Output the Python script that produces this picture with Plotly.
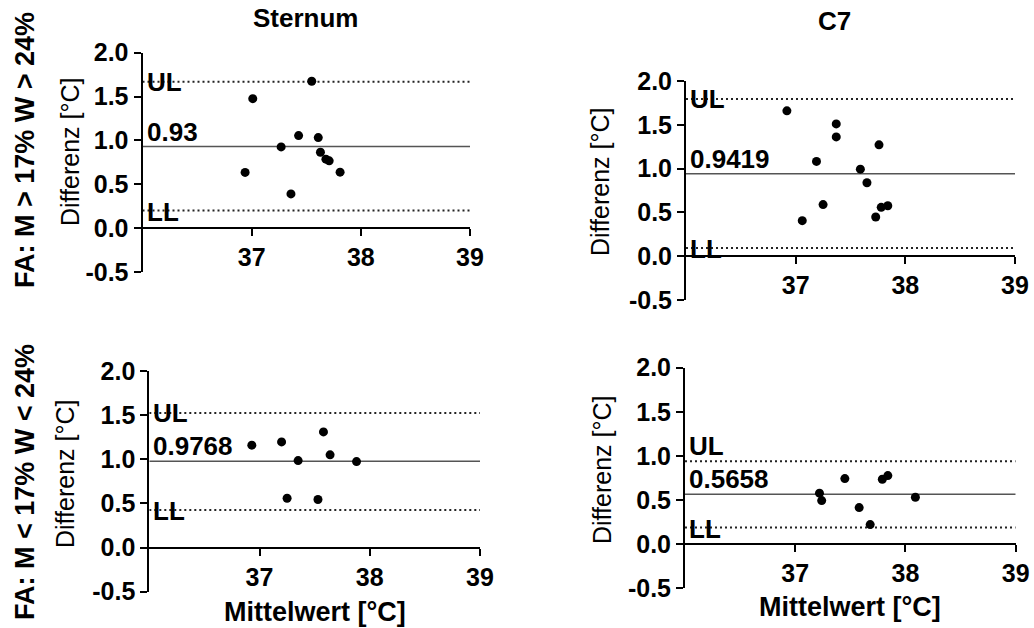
import plotly.graph_objects as go

W, H = 1034, 628

# ---------------- data ----------------
sternum_hi_x = [36.94, 37.01, 37.55, 37.27, 37.36, 37.43, 37.61, 37.63, 37.68, 37.71, 37.81]
sternum_hi_y = [0.635, 1.476, 1.674, 0.926, 0.39, 1.055, 1.032, 0.865, 0.786, 0.767, 0.638]
sternum_hi_stats = [0.93, 1.67, 0.20]      # mean, UL, LL
sternum_hi_label = "0.93"

c7_hi_x = [36.92, 37.06, 37.19, 37.25, 37.37, 37.37, 37.59, 37.65, 37.76, 37.73, 37.78, 37.84]
c7_hi_y = [1.659, 0.406, 1.082, 0.589, 1.51, 1.362, 0.994, 0.839, 1.271, 0.448, 0.558, 0.576]
c7_hi_stats = [0.9419, 1.795, 0.095]
c7_hi_label = "0.9419"

sternum_lo_x = [36.93, 37.2, 37.35, 37.25, 37.53, 37.58, 37.64, 37.88]
sternum_lo_y = [1.16, 1.197, 0.985, 0.559, 0.544, 1.31, 1.05, 0.974]
sternum_lo_stats = [0.9768, 1.525, 0.425]
sternum_lo_label = "0.9768"

c7_lo_x = [37.22, 37.24, 37.45, 37.58, 37.68, 37.79, 37.84, 38.09]
c7_lo_y = [0.578, 0.494, 0.743, 0.415, 0.222, 0.736, 0.777, 0.532]
c7_lo_stats = [0.5658, 0.94, 0.188]
c7_lo_label = "0.5658"

x_range = [36, 39]
y_range = [-0.5, 2.0]
x_tickvals = [37, 38, 39]
x_ticktext = ["37", "38", "39"]
y_tickvals = [-0.5, 0.0, 0.5, 1.0, 1.5, 2.0]
y_ticktext = ["-0.5", "0.0", "0.5", "1.0", "1.5", "2.0"]

col_titles = ["Sternum", "C7"]
row_titles = ["FA: M > 17% W > 24%", "FA: M < 17% W < 24%"]
y_title = "Differenz [°C]"
x_title = "Mittelwert [°C]"

# ---------------- layout (pixel geometry) ----------------
FONT = "Liberation Sans, Arial, sans-serif"

# panel boxes: x-left, x-right, y-top(2.0), y-bottom(-0.5) in pixels
panels = [
    dict(x=sternum_hi_x, y=sternum_hi_y, stats=sternum_hi_stats, label=sternum_hi_label,
         box=(142.5, 470, 52.7, 272), ul_above=False),
    dict(x=c7_hi_x, y=c7_hi_y, stats=c7_hi_stats, label=c7_hi_label,
         box=(686, 1015, 81, 300), ul_above=False),
    dict(x=sternum_lo_x, y=sternum_lo_y, stats=sternum_lo_stats, label=sternum_lo_label,
         box=(149.3, 480, 371, 591.7), ul_above=False),
    dict(x=c7_lo_x, y=c7_lo_y, stats=c7_lo_stats, label=c7_lo_label,
         box=(685, 1015.7, 367.7, 588.3), ul_above=True),
]

fig = go.Figure()
annotations = []
tickfont = dict(family=FONT, size=25, color="black", weight="bold")
labfont = dict(family=FONT, size=26, color="black", weight="bold")

for i, p in enumerate(panels, start=1):
    xl, xr, yt, yb = p["box"]
    xdom = [xl / W, xr / W]
    ydom = [1 - yb / H, 1 - yt / H]
    sfx = "" if i == 1 else str(i)
    xa, ya = "x" + sfx, "y" + sfx
    frac0 = (0 - y_range[0]) / (y_range[1] - y_range[0])
    xpos = ydom[0] + frac0 * (ydom[1] - ydom[0])
    fig.update_layout(**{
        "xaxis" + sfx: dict(domain=xdom, range=x_range, anchor="free", position=xpos,
                            showline=True, linecolor="black", linewidth=2,
                            ticks="outside", ticklen=7, tickwidth=2, tickcolor="black",
                            tickvals=x_tickvals, ticktext=x_ticktext, tickfont=tickfont,
                            showgrid=False, zeroline=False, fixedrange=True, automargin=False),
        "yaxis" + sfx: dict(domain=ydom, range=y_range, anchor=xa,
                            showline=True, linecolor="black", linewidth=2,
                            ticks="outside", ticklen=7, tickwidth=2, tickcolor="black",
                            tickvals=y_tickvals, ticktext=y_ticktext, tickfont=tickfont,
                            showgrid=False, zeroline=False, fixedrange=True, automargin=False),
    })
    mean, ul, ll = p["stats"]
    # limits (dotted) and mean (solid)
    for val, dash, col, w in [(ul, "2px,3px", "#222", 2), (ll, "2px,3px", "#222", 2),
                              (mean, "solid", "#555", 1.5)]:
        fig.add_trace(go.Scatter(x=x_range, y=[val, val], mode="lines",
                                 line=dict(color=col, width=w, dash=dash),
                                 xaxis=xa, yaxis=ya, showlegend=False, hoverinfo="skip"))
    fig.add_trace(go.Scatter(x=p["x"], y=p["y"], mode="markers",
                             marker=dict(color="black", size=9),
                             xaxis=xa, yaxis=ya, showlegend=False))
    # labels
    annotations.append(dict(x=x_range[0], y=mean, xref=xa, yref=ya, text=p["label"],
                            showarrow=False, xanchor="left", yanchor="bottom",
                            xshift=2, yshift=-2, font=labfont))
    if p["ul_above"]:
        annotations.append(dict(x=x_range[0], y=ul, xref=xa, yref=ya, text="UL",
                                showarrow=False, xanchor="left", yanchor="bottom",
                                xshift=2, yshift=-2, font=labfont))
    else:
        annotations.append(dict(x=x_range[0], y=ul, xref=xa, yref=ya, text="UL",
                                showarrow=False, xanchor="left", yanchor="middle",
                                xshift=2, font=labfont))
    annotations.append(dict(x=x_range[0], y=ll, xref=xa, yref=ya, text="LL",
                            showarrow=False, xanchor="left", yanchor="middle",
                            xshift=2, yshift=-1, font=labfont))

# axis titles / headers as paper annotations (pixel positions)
def px(xp, yp):
    return xp / W, 1 - yp / H

for (xp, yp) in [(70, 152), (600, 182), (65, 474), (602, 470)]:
    ax_, ay_ = px(xp, yp)
    annotations.append(dict(x=ax_, y=ay_, xref="paper", yref="paper", text=y_title,
                            textangle=-90, showarrow=False, xanchor="center", yanchor="middle",
                            font=dict(family=FONT, size=25, color="black")))

for (xp, yp) in [(315, 612), (850, 607)]:
    ax_, ay_ = px(xp, yp)
    annotations.append(dict(x=ax_, y=ay_, xref="paper", yref="paper", text=x_title,
                            showarrow=False, xanchor="center", yanchor="middle",
                            font=dict(family=FONT, size=27, color="black", weight="bold")))

for txt, (xp, yp) in zip(col_titles, [(305, 18), (834, 21)]):
    ax_, ay_ = px(xp, yp)
    annotations.append(dict(x=ax_, y=ay_, xref="paper", yref="paper", text=txt,
                            showarrow=False, xanchor="center", yanchor="middle",
                            font=dict(family=FONT, size=26, color="black", weight="bold")))

for txt, (xp, yp) in zip(row_titles, [(25, 150), (25, 482)]):
    ax_, ay_ = px(xp, yp)
    annotations.append(dict(x=ax_, y=ay_, xref="paper", yref="paper", text=txt,
                            textangle=-90, showarrow=False, xanchor="center", yanchor="middle",
                            font=dict(family=FONT, size=27, color="black", weight="bold")))

fig.update_layout(template="none", width=W, height=H, margin=dict(l=0, r=0, t=0, b=0),
                  paper_bgcolor="white", plot_bgcolor="white",
                  annotations=annotations, showlegend=False)

fig.write_html("out.html")
